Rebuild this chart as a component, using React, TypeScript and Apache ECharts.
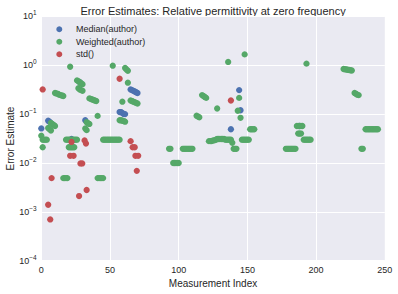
import React, { useEffect, useRef } from "react";
import * as echarts from "echarts";

const FONT = "'Liberation Sans', Arial, sans-serif";
const TEXT = "#262626";

const seriesNames = ["Median(author)", "Weighted(author)", "std()"];
const seriesColors = ["#4C72B0", "#55A868", "#C44E52"];

const titleText = "Error Estimates: Relative permittivity at zero frequency";
const xLabel = "Measurement Index";
const yLabel = "Error Estimate";

const xTicks = [0, 50, 100, 150, 200, 250];
const yTickExponents = [-4, -3, -2, -1, 0, 1];

const medianPoints: [number, number][] = [
  [0, 0.051], [5, 0.073], [6, 0.07], [22, 0.031], [28, 0.45], [32, 0.075],
  [57, 0.11], [58, 0.11], [59, 0.105], [60, 0.1], [61, 0.1],
  [65, 0.32], [66, 0.31], [67, 0.3], [68, 0.29], [69, 0.28], [70, 0.27],
  [138, 0.049], [144, 0.31], [145, 0.12], [188, 0.057],
];

const weightedPoints: [number, number][] = [
  [0, 0.036], [1, 0.03], [2, 0.03], [3, 0.03], [4, 0.03], [1, 0.021],
  [5, 0.052], [6, 0.049], [7, 0.046],
  [7, 0.066], [8, 0.063], [9, 0.06], [10, 0.057],
  [10, 0.27], [11, 0.265], [12, 0.26], [13, 0.25], [14, 0.245], [15, 0.24], [16, 0.235],
  [16, 0.0049], [17, 0.0049], [18, 0.0049], [19, 0.0049],
  [18, 0.03], [19, 0.03], [20, 0.03], [21, 0.03], [22, 0.03], [23, 0.03], [24, 0.03], [25, 0.03], [26, 0.03],
  [20, 0.021], [21, 0.021], [22, 0.021], [23, 0.021], [24, 0.021],
  [21, 0.93],
  [26, 0.49], [27, 0.47], [28, 0.45], [29, 0.43], [30, 0.41],
  [27, 0.34], [28, 0.32], [29, 0.31], [30, 0.3],
  [32, 0.051], [33, 0.047],
  [33, 0.068], [34, 0.065], [35, 0.063],
  [35, 0.21], [36, 0.205], [37, 0.2], [38, 0.195], [39, 0.19], [40, 0.185],
  [41, 0.092],
  [41, 0.0049], [42, 0.0049], [43, 0.0049], [44, 0.0049], [45, 0.0049],
  [45, 0.03], [46, 0.03], [47, 0.03], [48, 0.03], [49, 0.03], [50, 0.03], [51, 0.03],
  [52, 0.03], [53, 0.03], [54, 0.03], [55, 0.03], [56, 0.03], [57, 0.03],
  [52, 0.98],
  [57, 0.075], [58, 0.075], [59, 0.073], [60, 0.072], [61, 0.07],
  [59, 0.18],
  [61, 0.88], [62, 0.82], [63, 0.77],
  [63, 0.44],
  [65, 0.19], [66, 0.185], [67, 0.18], [68, 0.175], [69, 0.17], [70, 0.165],
  [93, 0.0195], [94, 0.0195],
  [96, 0.01], [97, 0.01], [98, 0.01], [99, 0.01], [100, 0.01],
  [103, 0.0195], [104, 0.0195], [105, 0.0195], [106, 0.0195], [107, 0.0195], [108, 0.0195], [109, 0.0195], [110, 0.0195],
  [113, 0.093], [114, 0.089], [115, 0.086],
  [117, 0.245], [118, 0.235], [119, 0.225], [120, 0.215],
  [122, 0.028], [123, 0.028], [124, 0.028], [125, 0.029], [126, 0.029], [127, 0.03],
  [128, 0.031], [129, 0.031], [130, 0.031], [131, 0.031], [132, 0.031], [133, 0.031],
  [134, 0.03], [135, 0.03], [136, 0.03], [137, 0.03], [138, 0.03], [139, 0.026],
  [128, 0.13],
  [136, 1.17],
  [140, 0.0195], [141, 0.0195], [142, 0.0195],
  [143, 0.117], [144, 0.215], [145, 0.084],
  [146, 0.03], [147, 0.03], [148, 0.03], [149, 0.03], [150, 0.03], [151, 0.03],
  [148, 1.67],
  [152, 0.049], [153, 0.049], [154, 0.049], [155, 0.049],
  [178, 0.0195], [179, 0.0195], [180, 0.0195], [181, 0.0195], [182, 0.0195], [183, 0.0195], [184, 0.0195], [185, 0.0195],
  [186, 0.057], [187, 0.057], [188, 0.057], [189, 0.057], [190, 0.057],
  [187, 0.04], [188, 0.04], [189, 0.04],
  [191, 0.03], [192, 0.03], [193, 0.03], [194, 0.03], [195, 0.03], [196, 0.03],
  [193, 1.08],
  [220, 0.84], [221, 0.83], [222, 0.82], [223, 0.81], [224, 0.8], [225, 0.79], [226, 0.78],
  [228, 0.27], [229, 0.26], [230, 0.25], [231, 0.245],
  [233, 0.0195], [234, 0.0195],
  [236, 0.049], [237, 0.049], [238, 0.049], [239, 0.049], [240, 0.049],
  [241, 0.049], [242, 0.049], [243, 0.049], [244, 0.049], [245, 0.049],
];

const stdPoints: [number, number][] = [
  [1, 0.32], [5, 0.0014], [6.5, 0.0007], [7.5, 0.0049],
  [21, 0.014], [23.5, 0.014], [22, 0.027], [27.5, 0.0021],
  [28.5, 0.0098], [29.8, 0.0098], [31.5, 0.029], [32.5, 0.025], [33, 0.0028],
  [57, 0.53], [65, 0.028], [66.5, 0.021], [68, 0.021],
  [68.5, 0.014], [70.5, 0.014], [69.5, 0.0069], [138, 0.19],
];

const allSeries = [medianPoints, weightedPoints, stdPoints];

export default function App() {
  const ref = useRef<HTMLDivElement>(null);
  useEffect(() => {
    if (!ref.current) return;
    const chart = echarts.init(ref.current, undefined, { renderer: "svg" });
    const left = 41.3;
    const right = 13.2;
    const top = 16.4;
    const bottom = 33.3;
    const plotCx = left + (398 - left - right) / 2;
    const plotCy = top + (294 - top - bottom) / 2;
    chart.setOption({
      animation: false,
      backgroundColor: "#ffffff",
      grid: {
        left, right, top, bottom,
        show: true,
        backgroundColor: "#EAEAF2",
        borderWidth: 0,
        containLabel: false,
      },
      legend: {
        orient: "vertical",
        left: 56.3,
        top: 23.5,
        padding: 0,
        icon: "circle",
        itemWidth: 6,
        itemHeight: 6,
        itemGap: 1,
        data: seriesNames,
        formatter: (name: string) => "{g| }{t|" + name + "}",
        textStyle: {
          fontSize: 9, fontFamily: FONT, color: TEXT, lineHeight: 11.5,
          rich: {
            g: { width: 8.7, fontSize: 9, lineHeight: 11.5 },
            t: { fontSize: 9, fontFamily: FONT, color: TEXT, lineHeight: 11.5 },
          },
        },
      },
      xAxis: {
        type: "value",
        min: xTicks[0],
        max: xTicks[xTicks.length - 1],
        interval: 50,
        axisLine: { show: false },
        axisTick: { show: false },
        splitLine: { show: true, lineStyle: { color: "#ffffff", width: 1 } },
        axisLabel: { fontSize: 9, fontFamily: FONT, color: TEXT, margin: 5 },
      },
      yAxis: {
        type: "log",
        logBase: 10,
        min: Math.pow(10, yTickExponents[0]),
        max: Math.pow(10, yTickExponents[yTickExponents.length - 1]),
        axisLine: { show: false },
        axisTick: { show: false },
        splitLine: { show: true, lineStyle: { color: "#ffffff", width: 1 } },
        axisLabel: {
          margin: 4.6,
          formatter: (v: number) => {
            const e = Math.round(Math.log10(v));
            return "{b|10}{s|" + (e < 0 ? "\u2212" + Math.abs(e) : String(e)) + "}";
          },
          rich: {
            b: { fontSize: 9, fontFamily: FONT, color: TEXT, lineHeight: 14 },
            s: { fontSize: 6.5, fontFamily: FONT, color: TEXT, lineHeight: 7, verticalAlign: "top" },
          },
        },
      },
      graphic: [
        {
          type: "text", x: plotCx, y: 10.5,
          style: { text: titleText, fontSize: 11, fontFamily: FONT, fill: TEXT, textAlign: "center", textVerticalAlign: "middle" },
        },
        {
          type: "text", x: plotCx, y: 283.5,
          style: { text: xLabel, fontSize: 10, fontFamily: FONT, fill: TEXT, textAlign: "center", textVerticalAlign: "middle" },
        },
        {
          type: "text", x: 10, y: plotCy, rotation: Math.PI / 2,
          style: { text: yLabel, fontSize: 10, fontFamily: FONT, fill: TEXT, textAlign: "center", textVerticalAlign: "middle" },
        },
      ],
      series: allSeries.map((pts, i) => ({
        name: seriesNames[i],
        type: "scatter",
        data: pts,
        symbol: "circle",
        symbolSize: 6.3,
        itemStyle: { color: seriesColors[i], opacity: 1 },
        z: 2 + i,
      })),
    });
    return () => chart.dispose();
  }, []);
  return <div ref={ref} style={{ position: "fixed", left: 0, top: 0, width: 398, height: 294 }} />;
}
